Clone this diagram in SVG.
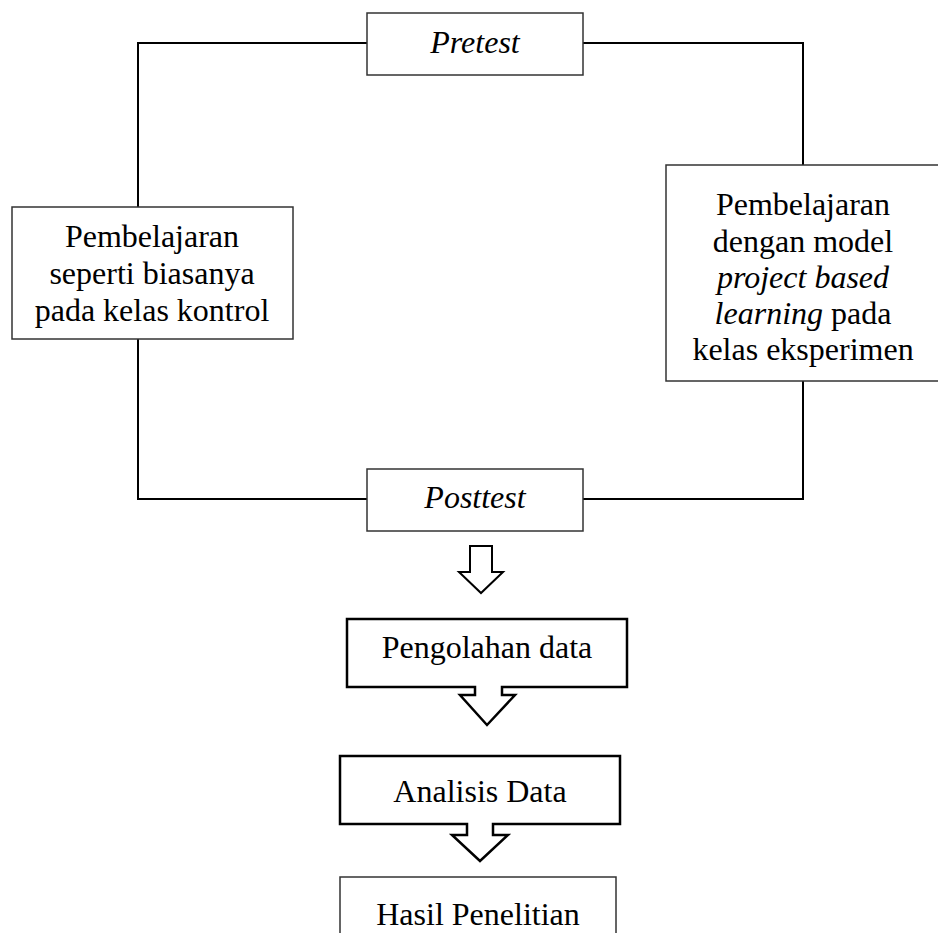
<svg xmlns="http://www.w3.org/2000/svg" width="938" height="933" viewBox="0 0 938 933">
<style>
.box{fill:#fff;stroke:#333;stroke-width:1.5}
.tbox{fill:#fff;stroke:#000;stroke-width:2.5;stroke-linejoin:miter}
.ln{fill:none;stroke:#000;stroke-width:2}
.arr{fill:#fff;stroke:#000;stroke-width:2}
text{font-family:"Liberation Serif","Times New Roman",serif;font-size:32px;fill:#000;text-anchor:middle}
.it{font-style:italic}
</style>
<rect width="938" height="933" fill="#fff"/>
<g id="connectors">
<polyline class="ln" points="367,43 138,43 138,207"/>
<polyline class="ln" points="138,339 138,499 367,499"/>
<polyline class="ln" points="583,43 803,43 803,165"/>
<polyline class="ln" points="803,381 803,499 583,499"/>
<path id="arrow1" class="arr" d="M470,546 H492 V572 H503 L481,593 L459,572 H470 Z"/>
</g>
<g id="pretest">
<rect class="box" x="367" y="13" width="216" height="62"/>
<text class="it" x="475" y="53">Pretest</text>
</g>
<g id="kontrol">
<rect class="box" x="12" y="207" width="281" height="132"/>
<text x="152" y="247">Pembelajaran</text>
<text x="152" y="284">seperti biasanya</text>
<text x="152" y="321">pada kelas kontrol</text>
</g>
<g id="eksperimen">
<rect class="box" x="666" y="165" width="280" height="216"/>
<text x="803" y="215">Pembelajaran</text>
<text x="803" y="252">dengan model</text>
<text x="803" y="288" class="it">project based</text>
<text x="803" y="324"><tspan class="it">learning</tspan> pada</text>
<text x="803" y="360">kelas eksperimen</text>
</g>
<g id="posttest">
<rect class="box" x="367" y="469" width="216" height="62"/>
<text class="it" x="475" y="508">Posttest</text>
</g>
<g id="pengolahan">
<path class="tbox" d="M347,619 H627 V687 H502 V695 H515 L487,725 L460,695 H475 V687 H347 Z"/>
<text x="487" y="658">Pengolahan data</text>
</g>
<g id="analisis">
<path class="tbox" d="M340,756 H620 V824 H493 V835 H508 L480,861 L452,835 H467 V824 H340 Z"/>
<text x="480" y="802">Analisis Data</text>
</g>
<g id="hasil">
<rect class="box" x="340" y="877" width="276" height="70"/>
<text x="478" y="925">Hasil Penelitian</text>
</g>
</svg>
